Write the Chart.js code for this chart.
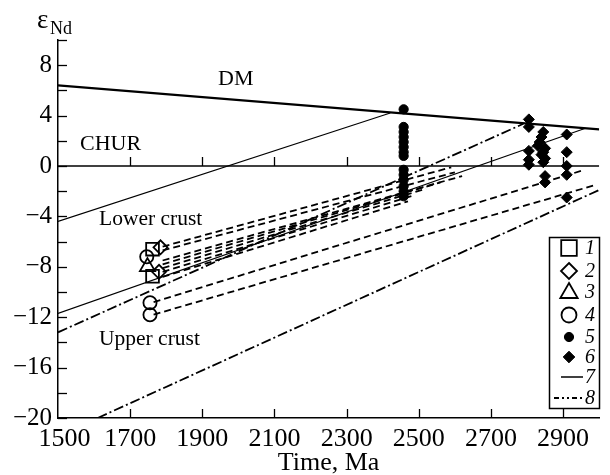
<!DOCTYPE html>
<html><head><meta charset="utf-8">
<script src="https://cdn.jsdelivr.net/npm/chart.js@4/dist/chart.umd.min.js"></script>
<style>html,body{margin:0;padding:0;background:#fff}#wrap{width:610px;height:475px;}</style>
</head><body><div id="wrap"><canvas id="c" width="610" height="475"></canvas></div>
<script>
// ---- axis ticks ----
const xTickValues = [1500, 1700, 1900, 2100, 2300, 2500, 2700, 2900];
const yTickValues = [-20,-18,-16,-14,-12,-10,-8,-6,-4,-2,0,2,4,6,8,10];
const yLabelValues = [8, 4, 0, -4, -8, -12, -16, -20];

// ---- reference lines [time Ma, eps Nd] ----
const dmLine = [[1500, 6.4], [3000, 2.9]];
const churLine = [[1500, 0], [3000, 0]];
const solidLine1 = [[1500, -4.4], [2421, 4.2]];
const solidLine2 = [[1500, -11.7], [2962, 3.0]];
const dashDotLine1 = [[1500, -13.2], [2790, 3.35]];
const dashDotLine2 = [[1610, -20], [3000, -1.9]];
const dashedA = [[1790, -6.4], [2590, -0.1]];
const dashedB = [[1790, -6.7], [2600, -0.5]];
const dashedC = [[1790, -7.5], [2620, -0.8]];
const dashedD = [[1790, -7.8], [2560, -1.3]];
const dashedE = [[1790, -8.1], [2520, -1.8]];
const dashedF = [[1790, -8.4], [2490, -2.3]];
const dashedG = [[1790, -8.8], [2470, -2.8]];
const dashedH = [[1765, -10.8], [2960, -0.3]];
const dashedI = [[1765, -11.8], [2990, -1.5]];

// ---- samples ----
const series1 = [[1762, -6.6], [1762, -8.75]];            // open squares
const series2 = [[1784, -6.45], [1780, -8.4]];            // open diamonds
const series3 = [[1748, -8.0]];                           // open triangles
const series4 = [[1746, -7.2], [1755, -10.85], [1755, -11.8]]; // open circles
const series5 = [[2458, 4.5], [2458, 3.1], [2458, 2.7], [2458, 2.3], [2458, 1.9], [2458, 1.5],
                 [2458, 1.1], [2458, 0.8], [2458, -0.3], [2458, -0.7], [2458, -1.1], [2458, -1.6],
                 [2458, -2.0], [2458, -2.4]];             // filled circles
const series6 = [[2805, 3.7], [2805, 3.1], [2805, 1.2], [2805, 0.5], [2805, 0.1],
                 [2845, 2.7], [2840, 2.3], [2835, 1.9], [2830, 1.6], [2850, 1.4], [2845, 1.1],
                 [2840, 0.9], [2850, 0.6], [2845, 0.3], [2850, -0.8], [2850, -1.3],
                 [2910, 2.5], [2910, 1.1], [2910, 0.0], [2910, -0.7], [2910, -2.5]]; // filled diamonds

const legendLabels = ['1', '2', '3', '4', '5', '6', '7', '8'];

const pts = a => a.map(p => ({x: p[0], y: p[1]}));
const DASH = [7, 4];
const DASHDOT = [10, 3, 2, 3];

function lineDs(arr, width, dash) {
  return {data: pts(arr), showLine: true, borderColor: '#000', borderWidth: width,
          borderDash: dash || [], pointRadius: 0, fill: false, order: 2};
}
function ptDs(arr, style, r, fillCol, bw) {
  return {data: pts(arr), showLine: false, pointStyle: style, pointRadius: r,
          pointBackgroundColor: fillCol, pointBorderColor: '#000', pointBorderWidth: bw, order: 1};
}

const datasets = [
  lineDs(dmLine, 2.2), lineDs(churLine, 1.3),
  lineDs(solidLine1, 1.1), lineDs(solidLine2, 1.1),
  lineDs(dashDotLine1, 1.8, DASHDOT), lineDs(dashDotLine2, 1.8, DASHDOT),
  lineDs(dashedA, 1.8, DASH), lineDs(dashedB, 1.8, DASH), lineDs(dashedC, 1.8, DASH),
  lineDs(dashedD, 1.8, DASH), lineDs(dashedE, 1.8, DASH), lineDs(dashedF, 1.8, DASH),
  lineDs(dashedG, 1.8, DASH), lineDs(dashedH, 1.8, DASH), lineDs(dashedI, 1.8, DASH),
  ptDs(series5, 'circle', 4.6, '#000', 1),
  ptDs(series6, 'rectRot', 5.5, '#000', 1),
  ptDs(series1, 'rect', 9, 'rgba(0,0,0,0)', 1.8),
  ptDs(series2, 'rectRot', 7, 'rgba(0,0,0,0)', 1.8),
  ptDs(series3, 'triangle', 8.7, 'rgba(0,0,0,0)', 1.8),
  ptDs(series4, 'circle', 6.6, 'rgba(0,0,0,0)', 1.8)
];

const SERIF = "'Liberation Serif', 'Times New Roman', serif";
Chart.defaults.font.family = SERIF;
Chart.defaults.color = '#000';

function drawSym(ctx, style, x, y, r, filled) {
  ctx.beginPath();
  if (style === 'rect') { const s = r * Math.SQRT1_2; ctx.rect(x - s, y - s, 2 * s, 2 * s); }
  else if (style === 'rectRot') { ctx.moveTo(x, y - r); ctx.lineTo(x + r, y); ctx.lineTo(x, y + r); ctx.lineTo(x - r, y); ctx.closePath(); }
  else if (style === 'triangle') {
    ctx.moveTo(x, y - r);
    ctx.lineTo(x + r * Math.sin(2 * Math.PI / 3), y - r * Math.cos(2 * Math.PI / 3));
    ctx.lineTo(x + r * Math.sin(4 * Math.PI / 3), y - r * Math.cos(4 * Math.PI / 3));
    ctx.closePath();
  } else { ctx.arc(x, y, r, 0, Math.PI * 2); }
  if (filled) { ctx.fillStyle = '#000'; ctx.fill(); }
  ctx.stroke();
}

const decor = {
  id: 'decor',
  beforeDraw(chart) {
    const c = chart.ctx; c.save(); c.fillStyle = '#fff'; c.fillRect(0, 0, chart.width, chart.height); c.restore();
  },
  afterDraw(chart) {
    const {ctx, scales: {x, y}, chartArea: a} = chart;
    ctx.save();
    ctx.strokeStyle = '#000'; ctx.lineWidth = 1.3;
    const y0 = y.getPixelForValue(0);
    xTickValues.forEach(v => {
      if (v === 1500) return;
      const px = Math.round(x.getPixelForValue(v)) + 0.5;
      ctx.beginPath(); ctx.moveTo(px, a.bottom); ctx.lineTo(px, a.bottom - 9); ctx.stroke();
      ctx.beginPath(); ctx.moveTo(px, y0); ctx.lineTo(px, y0 - 9); ctx.stroke();
    });
    yTickValues.forEach(v => {
      const py = Math.round(y.getPixelForValue(v)) + 0.5;
      ctx.beginPath(); ctx.moveTo(a.left, py); ctx.lineTo(a.left + 9, py); ctx.stroke();
    });
    // axis title
    ctx.fillStyle = '#000'; ctx.textBaseline = 'alphabetic';
    ctx.font = '27px ' + SERIF; ctx.textAlign = 'left';
    ctx.fillText('\u03B5', 37, 28);
    ctx.font = '18px ' + SERIF; ctx.fillText('Nd', 50, 34);
    ctx.font = '26px ' + SERIF; ctx.textAlign = 'center';
    ctx.fillText('Time, Ma', (a.left + a.right) / 2, 470);
    // annotations
    ctx.font = '22px ' + SERIF; ctx.textAlign = 'left';
    ctx.fillText('DM', 218, 85);
    ctx.fillText('CHUR', 80, 150);
    ctx.font = '21.5px ' + SERIF;
    ctx.fillText('Lower crust', 99, 225);
    ctx.fillText('Upper crust', 99, 345);
    // legend
    const L = 549, T = 237, R = 599, B = 408;
    ctx.fillStyle = '#fff'; ctx.fillRect(L, T, R - L, B - T);
    ctx.lineWidth = 1.5; ctx.strokeRect(L + 0.5, T + 0.5, R - L, B - T);
    const rows = [248, 271, 292, 315, 337, 357, 377, 398];
    const cx = 569;
    ctx.lineWidth = 1.8; ctx.strokeStyle = '#000';
    drawSym(ctx, 'rect', cx, rows[0], 11, false);
    drawSym(ctx, 'rectRot', cx, rows[1], 8, false);
    drawSym(ctx, 'triangle', cx, rows[2] + 1, 10, false);
    drawSym(ctx, 'circle', cx, rows[3], 7.5, false);
    ctx.lineWidth = 1;
    drawSym(ctx, 'circle', cx, rows[4], 4.6, true);
    drawSym(ctx, 'rectRot', cx, rows[5], 5.8, true);
    ctx.lineWidth = 1.5;
    ctx.beginPath(); ctx.moveTo(561, rows[6]); ctx.lineTo(583, rows[6]); ctx.stroke();
    ctx.setLineDash([5, 3, 2, 3, 2, 3]); ctx.lineWidth = 1.8;
    ctx.beginPath(); ctx.moveTo(554, rows[7]); ctx.lineTo(584, rows[7]); ctx.stroke();
    ctx.setLineDash([]);
    ctx.fillStyle = '#000'; ctx.font = 'italic 20px ' + SERIF;
    ctx.textAlign = 'left'; ctx.textBaseline = 'middle';
    legendLabels.forEach((t, i) => ctx.fillText(t, 585, rows[i] + 1));
    ctx.restore();
  }
};

new Chart(document.getElementById('c'), {
  type: 'scatter',
  data: {datasets},
  options: {
    responsive: false, animation: false, events: [],
    layout: {padding: {top: 40, right: 0, left: 0, bottom: 0}},
    plugins: {legend: {display: false}, tooltip: {enabled: false}},
    scales: {
      x: {
        type: 'linear', min: 1500, max: 3000,
        afterFit(s) { s.height = 57; },
        afterBuildTicks(s) { s.ticks = xTickValues.map(v => ({value: v})); },
        grid: {display: false, drawTicks: false},
        border: {display: true, color: '#000', width: 1.5},
        ticks: {autoSkip: false, maxRotation: 0, minRotation: 0, padding: 6,
                font: {size: 26, family: SERIF}, color: '#000',
                callback(v) { return v === 1500 ? '\u2002' + v : String(v); }}
      },
      y: {
        type: 'linear', min: -20, max: 10,
        afterFit(s) { s.width = 58; },
        afterBuildTicks(s) { s.ticks = yTickValues.map(v => ({value: v})); },
        grid: {display: false, drawTicks: false},
        border: {display: true, color: '#000', width: 1.5},
        ticks: {autoSkip: false, padding: 6,
                font: {size: 25, family: SERIF}, color: '#000',
                callback(v) { return yLabelValues.includes(v) ? (v < 0 ? '\u2212' + (-v) : String(v)) : ''; }}
      }
    }
  },
  plugins: [decor]
});
</script>
</body></html>
